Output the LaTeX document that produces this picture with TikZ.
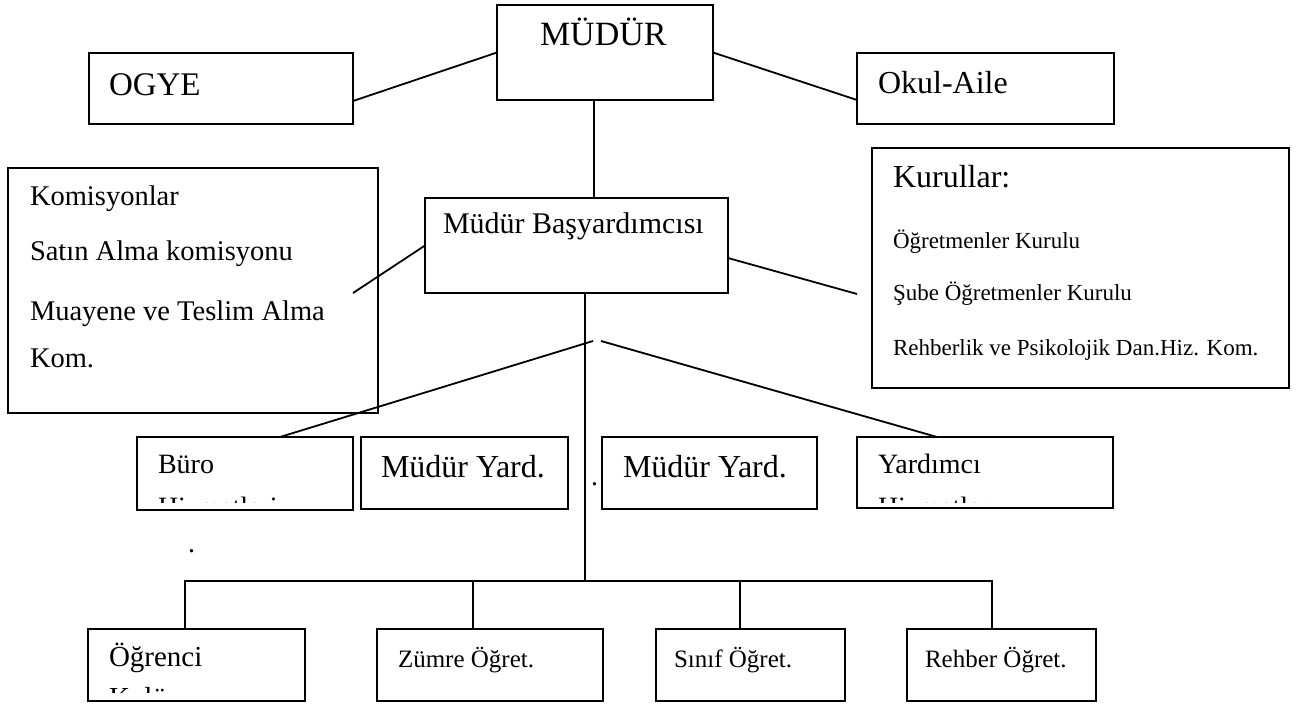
\documentclass[tikz,border=0pt]{standalone}
\usepackage{fontspec}
\setmainfont{Liberation Serif}
\usetikzlibrary{calc}
\tikzset{
  box/.style={draw, line width=1.8pt, rectangle, inner sep=0pt, outer sep=0pt, anchor=north west},
  conn/.style={line width=1.8pt},
  txt/.style={anchor=base west, inner sep=0pt, outer sep=0pt},
}
\newcommand{\fs}[1]{\fontsize{#1}{#1}\selectfont}
\begin{document}
\begin{tikzpicture}[x=1pt,y=-1pt]
\useasboundingbox (0,0) rectangle (1304,707);
% boxes
\node[box, minimum width=216pt, minimum height=95pt] (mudur) at (497,5) {};
\node[box, minimum width=264pt, minimum height=71pt] (ogye) at (89,53) {};
\node[box, minimum width=257pt, minimum height=71pt] (okul) at (857,53) {};
\node[box, minimum width=370pt, minimum height=245pt] (kom) at (8,168) {};
\node[box, minimum width=417pt, minimum height=240pt] (kur) at (872,148) {};
\node[box, minimum width=303pt, minimum height=95pt] (bas) at (425,198) {};
\node[box, minimum width=216pt, minimum height=73pt] (buro) at (137,437) {};
\node[box, minimum width=207pt, minimum height=72pt] (my1) at (361,437) {};
\node[box, minimum width=215pt, minimum height=72pt] (my2) at (602,437) {};
\node[box, minimum width=256pt, minimum height=71pt] (yard) at (857,437) {};
\node[box, minimum width=217pt, minimum height=72pt] (ogr) at (88,629) {};
\node[box, minimum width=226pt, minimum height=72pt] (zum) at (377,629) {};
\node[box, minimum width=189pt, minimum height=72pt] (sin) at (656,629) {};
\node[box, minimum width=189pt, minimum height=72pt] (reh) at (907,629) {};
% texts
\node[txt] (t-mudur) at (540,45) {\fs{34}MÜDÜR};
\node[txt] (t-ogye) at (109,95) {\fs{33}OGYE};
\node[txt] (t-okul) at (878,93) {\fs{32}Okul-Aile};
\node[txt] (t-kom1) at (30,205) {\fs{28.5}Komisyonlar};
\node[txt] (t-kom2) at (30,260) {\fs{28.5}Satın Alma komisyonu};
\node[txt] (t-kom3) at (30,320) {\fs{28.5}Muayene ve Teslim Alma};
\node[txt] (t-kom4) at (30,367) {\fs{28.5}Kom.};
\node[txt] (t-bas) at (443,233) {\fs{30}Müdür Başyardımcısı};
\node[txt] (t-kur0) at (893,187) {\fs{32}Kurullar:};
\node[txt] (t-kur1) at (893,248) {\fs{23}Öğretmenler Kurulu};
\node[txt] (t-kur2) at (893,300) {\fs{23}Şube Öğretmenler Kurulu};
\node[txt] (t-kur3) at (893,355) {\fs{23}Rehberlik ve Psikolojik Dan.Hiz. Kom.};
\node[txt] (t-buro) at (158,473) {\fs{28}Büro};
\node[txt] (t-my1) at (381,477) {\fs{32}Müdür Yard.};
\node[txt] (t-my2) at (623,477) {\fs{32}Müdür Yard.};
\node[txt] (t-yard) at (878,473) {\fs{28}Yardımcı};
\node[txt] (t-ogr) at (109,666) {\fs{29}Öğrenci};
\node[txt] (t-zum) at (398,667) {\fs{25}Zümre Öğret.};
\node[txt] (t-sin) at (674,667) {\fs{25}Sınıf Öğret.};
\node[txt] (t-reh) at (925,667) {\fs{25}Rehber Öğret.};
\node[txt] (dot1) at (591,485) {\fs{28}.};
\node[txt] (dot2) at (188,552) {\fs{28}.};
% clipped second lines
\begin{scope}
  \clip (140,440) rectangle (350,502);
  \node[txt] (t-buro2) at (158,516) {\fs{28}Hizmetleri};
\end{scope}
\begin{scope}
  \clip (860,440) rectangle (1110,502);
  \node[txt] (t-yard2) at (878,516) {\fs{28}Hizmetler};
\end{scope}
\begin{scope}
  \clip (91,632) rectangle (302,692);
  \node[txt] (t-ogr2) at (109,707) {\fs{29}Kulüp};
\end{scope}
% connectors
\draw[conn] ([yshift=-12.5pt]ogye.east) -- (mudur.west);
\draw[conn] (mudur.east) -- ([yshift=-11.5pt]okul.west);
\draw[conn] ([xshift=-11pt]mudur.south) -- ([xshift=-11pt]mudur.south |- bas.north);
\coordinate (komend) at (353,293);
\coordinate (kurend) at (857,294);
\draw[conn] (bas.west) -- (komend);
\draw[conn] ([yshift=-12.5pt]bas.east) -- (kurend);
\coordinate (busL) at (185,581);
\coordinate (busR) at (992,581);
\coordinate (splitL) at (593,341);
\coordinate (splitR) at (601,341);
\draw[conn] ([xshift=8.5pt]bas.south) -- ([xshift=8.5pt]bas.south |- busL);
\draw[conn] (splitL) -- ([xshift=35pt]buro.north);
\draw[conn] (splitR) -- ([xshift=-48pt]yard.north);
\draw[conn] ([xshift=-11.5pt]ogr.north) -- (busL) -- (busR) -- ([xshift=-9.5pt]reh.north);
\draw[conn] ([xshift=-17pt]zum.north) -- ([xshift=-17pt]zum.north |- busL);
\draw[conn] ([xshift=-10.5pt]sin.north) -- ([xshift=-10.5pt]sin.north |- busL);
\end{tikzpicture}
\end{document}
